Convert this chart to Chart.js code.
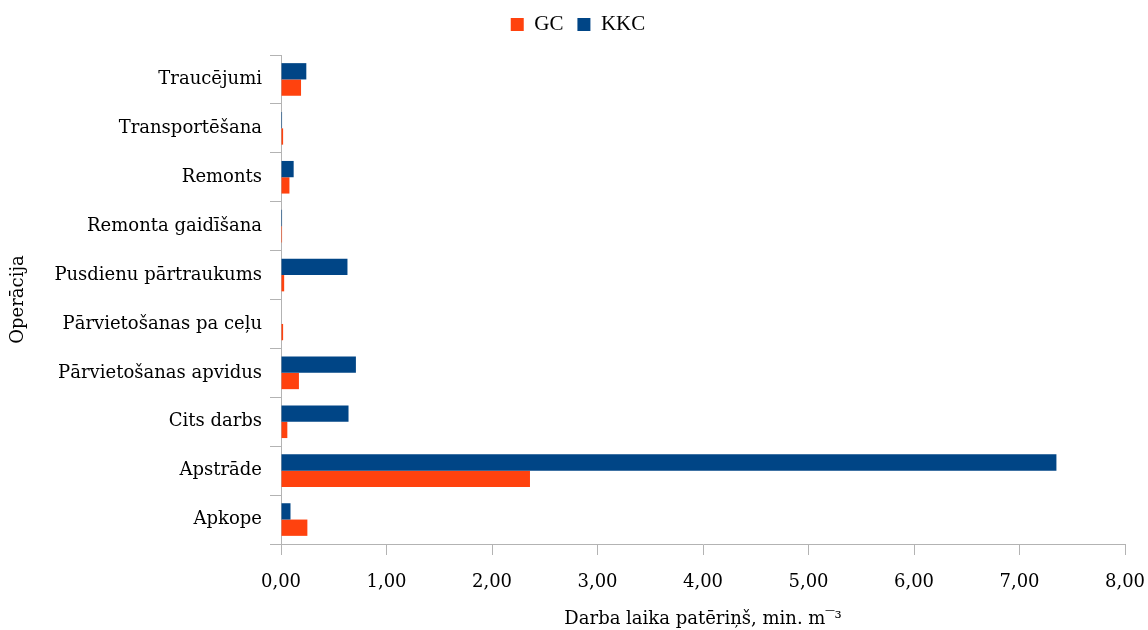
<!DOCTYPE html>
<html lang="lv">
<head>
    <meta charset="UTF-8">
    <title>Darba laika patēriņš</title>
    <style>
        body {
            margin: 0;
            padding: 0;
            background-color: #fff;
        }
        .chart-container {
            width: 1148px;
            height: 630px;
        }
    </style>
</head>
<body>

    <div class="chart-container">
        <canvas id="opChart"></canvas>
    </div>

    <script src="https://cdn.jsdelivr.net/npm/chart.js"></script>
    <script>
        // Operations, top to bottom
        const categories = [
            'Traucējumi',
            'Transportēšana',
            'Remonts',
            'Remonta gaidīšana',
            'Pusdienu pārtraukums',
            'Pārvietošanas pa ceļu',
            'Pārvietošanas apvidus',
            'Cits darbs',
            'Apstrāde',
            'Apkope'
        ];

        // min. per m3
        const kkcValues = [0.24, 0.01, 0.12, 0.01, 0.63, 0.00, 0.71, 0.64, 7.35, 0.09];
        const gcValues  = [0.19, 0.02, 0.08, 0.01, 0.03, 0.02, 0.17, 0.06, 2.36, 0.25];

        const xTicks = [0, 1, 2, 3, 4, 5, 6, 7, 8];

        const font = { family: "'DejaVu Serif', serif", size: 18 };
        const legendFont = { family: "'Liberation Serif', serif", size: 21 };
        const axisGrey = '#b3b3b3';

        // push the plot a bit further below the legend
        const legendGap = {
            id: 'legendGap',
            beforeInit(chart) {
                const fit = chart.legend.fit;
                chart.legend.fit = function() {
                    fit.call(this);
                    this.height += 10;
                };
            }
        };

        const ctx = document.getElementById('opChart').getContext('2d');

        const data = {
            labels: categories,
            datasets: [
                {
                    label: 'KKC',
                    data: kkcValues,
                    backgroundColor: '#004586',
                    categoryPercentage: 0.667,
                    barPercentage: 1.0
                },
                {
                    label: 'GC',
                    data: gcValues,
                    backgroundColor: '#ff420e',
                    categoryPercentage: 0.667,
                    barPercentage: 1.0
                }
            ]
        };

        const config = {
            type: 'bar',
            data: data,
            plugins: [legendGap],
            options: {
                indexAxis: 'y',
                responsive: true,
                maintainAspectRatio: false,
                animation: false,
                layout: {
                    padding: { top: 0, right: 0, bottom: 0, left: 8 }
                },
                plugins: {
                    legend: {
                        position: 'top',
                        reverse: true,
                        labels: {
                            color: '#000',
                            font: legendFont,
                            boxWidth: 13,
                            boxHeight: 13,
                            padding: 14
                        }
                    },
                    tooltip: { enabled: false }
                },
                scales: {
                    x: {
                        min: 0,
                        max: 8,
                        afterBuildTicks: function(scale) {
                            scale.ticks = xTicks.map(v => ({ value: v }));
                        },
                        afterFit: function(scale) {
                            scale.height = 86;
                            scale.paddingRight = 23;
                        },
                        grid: {
                            drawOnChartArea: false,
                            drawTicks: true,
                            tickLength: 11,
                            color: axisGrey
                        },
                        border: { display: true, color: axisGrey, width: 1 },
                        ticks: {
                            color: '#000',
                            font: font,
                            padding: 17,
                            callback: function(v) {
                                return Number(v).toFixed(2).replace('.', ',');
                            }
                        },
                        title: {
                            display: true,
                            text: 'Darba laika patēriņš, min. m\u203E\u00B3',
                            color: '#000',
                            font: font,
                            padding: { top: 10, bottom: 0 }
                        }
                    },
                    y: {
                        afterFit: function(scale) {
                            scale.width = 273;
                        },
                        grid: {
                            drawOnChartArea: false,
                            drawTicks: true,
                            tickLength: 11,
                            color: axisGrey
                        },
                        border: { display: true, color: axisGrey, width: 1 },
                        ticks: {
                            color: '#000',
                            font: font,
                            padding: 8
                        },
                        title: {
                            display: true,
                            text: 'Operācija',
                            color: '#000',
                            font: font,
                            padding: { top: 0, bottom: 0 }
                        }
                    }
                }
            }
        };

        const opChart = new Chart(ctx, config);
    </script>

</body>
</html>
